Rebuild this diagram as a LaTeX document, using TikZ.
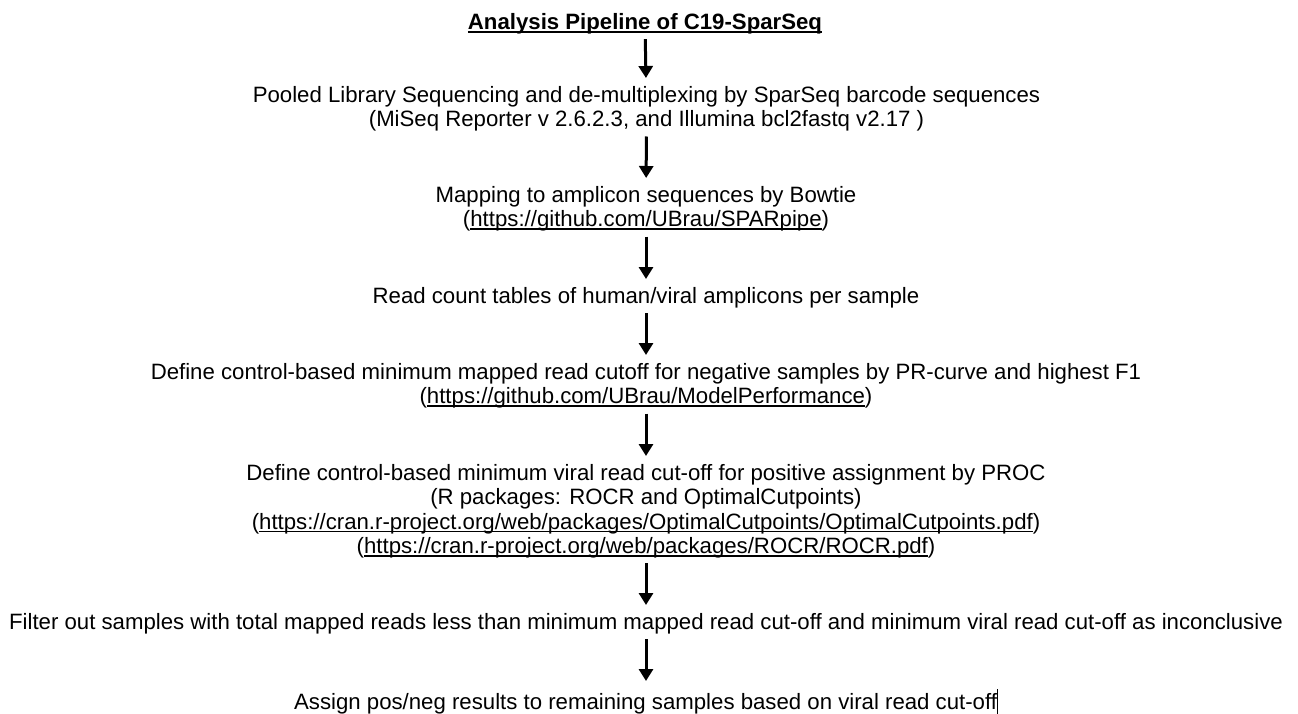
\documentclass[tikz,border=0pt]{standalone}
\usepackage{fontspec}
\setmainfont{Liberation Sans}
\usetikzlibrary{arrows.meta}
\newcommand\myul[1]{\setbox0\hbox{#1}\rlap{\rule[-0.15em]{\wd0}{0.07em}}\box0}
\begin{document}
\begin{tikzpicture}[x=1pt,y=-1pt,
  txt/.style={inner sep=0pt, align=center, anchor=north,
    font=\fontsize{22.2}{24.4}\selectfont},
  arr/.style={line width=3pt, -{Triangle[length=12pt,width=14pt]},
    shorten <=5pt, shorten >=8pt}]
\useasboundingbox (0,0) rectangle (1298,713);
\node[txt, font=\fontsize{22.2}{24.4}\selectfont\bfseries] (t) at (645,13) {\myul{Analysis Pipeline of C19-SparSeq}};
\node[txt] (n1) at (646.5,86) {Pooled Library Sequencing and de-multiplexing by SparSeq barcode sequences\\(MiSeq Reporter v 2.6.2.3, and Illumina bcl2fastq v2.17 )};
\node[txt] (n2) at (646,186) {Mapping to amplicon sequences by Bowtie\\(\myul{https://github.com/UBrau/SPARpipe})};
\node[txt] (n3) at (646,287) {Read count tables of human/viral amplicons per sample};
\node[txt] (n4) at (646,363) {Define control-based minimum mapped read cutoff for negative samples by PR-curve and highest F1\\(\myul{https://github.com/UBrau/ModelPerformance})};
\node[txt] (n5) at (646,464) {Define control-based minimum viral read cut-off for positive assignment by PROC\\(R packages: ROCR and OptimalCutpoints)\\(\myul{https://cran.r-project.org/web/packages/OptimalCutpoints/OptimalCutpoints.pdf})\\(\myul{https://cran.r-project.org/web/packages/ROCR/ROCR.pdf})};
\node[txt] (n6) at (646,613) {Filter out samples with total mapped reads less than minimum mapped read cut-off and minimum viral read cut-off as inconclusive};
\node[txt] (n7) at (646,689) {Assign pos/neg results to remaining samples based on viral read cut-off\rule[-0.3em]{0.7pt}{1.2em}};
\draw[arr] (t) -- (n1);
\draw[arr] (n1) -- (n2);
\draw[arr] (n2) -- (n3);
\draw[arr] (n3) -- (n4);
\draw[arr] (n4) -- (n5);
\draw[arr] (n5) -- (n6);
\draw[arr] (n6) -- (n7);
\end{tikzpicture}
\end{document}
